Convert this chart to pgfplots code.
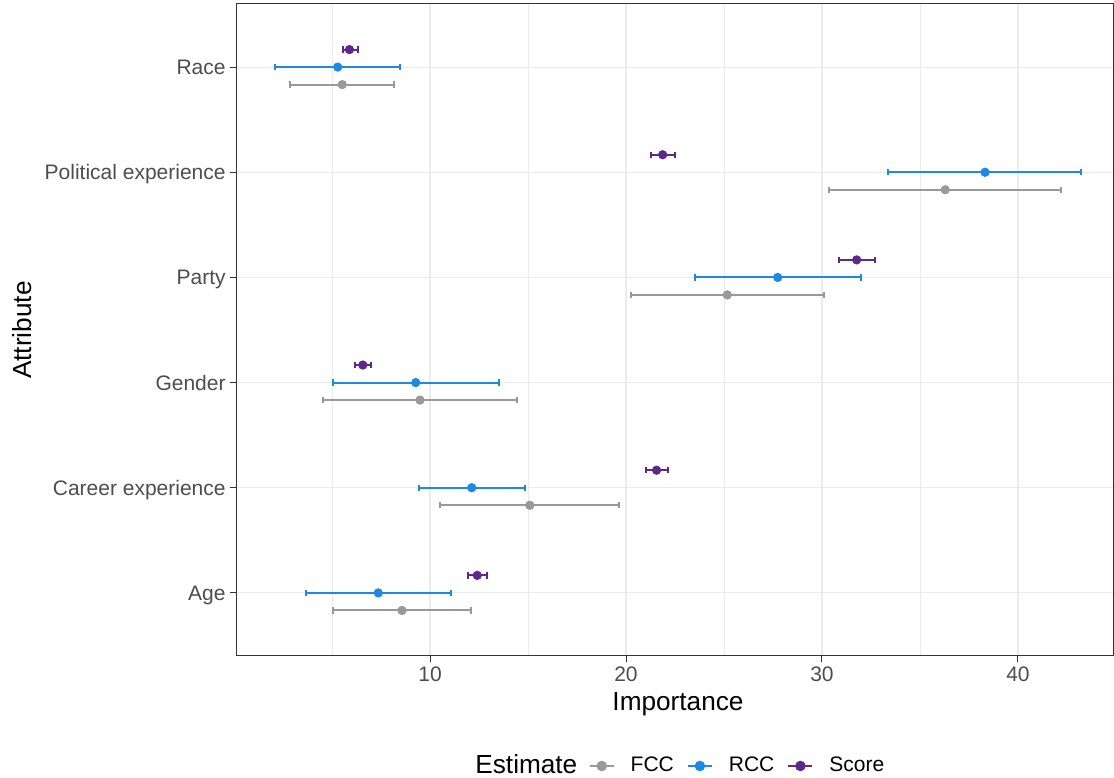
\documentclass[border=0pt]{standalone}
\usepackage{pgfplots}
\pgfplotsset{compat=1.18}
\usepackage{pgfplotstable}
\usepackage{fontspec}
\setmainfont{Liberation Sans}
\definecolor{fcc}{HTML}{999999}
\definecolor{rcc}{HTML}{1E88E5}
\definecolor{score}{HTML}{5E278C}
\definecolor{gridc}{HTML}{EBEBEB}
\definecolor{txt}{HTML}{4D4D4D}
\definecolor{frame}{HTML}{333333}
\pgfplotsset{
  mylegend/.style={legend image code/.code={\draw[mark repeat=2,mark phase=2,##1] plot coordinates {(0pt,0pt) (6pt,0pt) (12pt,0pt)};}},
  myerr/.style={only marks, mark=*, mark size=2.1pt, color=#1, forget plot,
    error bars/.cd, x dir=both, x explicit, error mark=|,
    error bar style={line width=1pt, color=#1},
    error mark options={mark size=1.6pt, line width=1pt, color=#1}}
}

\pgfplotstableread{
y x lo hi
6.1667 5.89 5.56 6.30
5.1667 21.87 21.26 22.50
4.1667 31.77 30.85 32.72
3.1667 6.57 6.19 6.97
2.1667 21.56 21.00 22.16
1.1667 12.41 11.92 12.89
}\scoredata
\pgfplotstableread{
y x lo hi
6 5.29 2.11 8.47
5 38.32 33.38 43.23
4 27.74 23.50 31.97
3 9.27 5.03 13.52
2 12.13 9.42 14.85
1 7.36 3.69 11.07
}\rccdata
\pgfplotstableread{
y x lo hi
5.8333 5.52 2.88 8.16
4.8333 36.29 30.37 42.19
3.8333 25.17 20.24 30.12
2.8333 9.49 4.52 14.42
1.8333 15.09 10.53 19.63
0.8333 8.57 5.03 12.09
}\fccdata

\begin{document}
\begin{tikzpicture}
\begin{axis}[
  scale only axis,
  width=438.5pt, height=326pt,
  xmin=0.10, xmax=44.85,
  ymin=0.4, ymax=6.6,
  xtick={10,20,30,40},
  minor xtick={5,15,25,35},
  ytick={1,2,3,4,5,6},
  yticklabels={Age, Career experience, Gender, Party, Political experience, Race},
  /pgf/number format/assume math mode=true,
  tick label style={font=\fontsize{10.5}{12.6}\selectfont, color=txt},
  xticklabel style={inner sep=0pt, yshift=-2pt},
  yticklabel style={inner sep=0pt, xshift=-2pt, text height=7.5pt, text depth=0pt},
  tick align=outside,
  major tick length=3pt,
  minor tick length=0pt,
  tick style={color=frame, line width=0.5pt},
  xtick pos=bottom, ytick pos=left,
  grid=both,
  major grid style={color=gridc, line width=0.55pt},
  minor grid style={color=gridc, line width=0.3pt},
  axis line style={color=frame, line width=0.5pt},
  xlabel={Importance},
  ylabel={Attribute},
  label style={font=\fontsize{13.1}{15.7}\selectfont, color=black},
  xlabel style={at={(axis description cs:0.504,-0.0736)}, anchor=center},
  ylabel style={at={(axis description cs:-0.244,0.5)}, anchor=center},
  legend columns=-1,
  legend style={draw=none, fill=none, at={(axis description cs:0.5707,-0.1687)}, anchor=center,
    font=\fontsize{10.5}{12.6}\selectfont, inner sep=0pt,
    nodes={inner sep=0pt},
    column sep=8pt,
    /tikz/every even column/.append style={column sep=6.5pt}},
]
\addplot[myerr=fcc]
  table[x=x, y=y, x error plus expr=\thisrow{hi}-\thisrow{x}, x error minus expr=\thisrow{x}-\thisrow{lo}] {\fccdata};
\addplot[myerr=rcc]
  table[x=x, y=y, x error plus expr=\thisrow{hi}-\thisrow{x}, x error minus expr=\thisrow{x}-\thisrow{lo}] {\rccdata};
\addplot[myerr=score]
  table[x=x, y=y, x error plus expr=\thisrow{hi}-\thisrow{x}, x error minus expr=\thisrow{x}-\thisrow{lo}] {\scoredata};
\addlegendimage{mylegend, color=fcc, line width=1pt, mark=*, mark size=2.1pt}
\addlegendentry{FCC}
\addlegendimage{mylegend, color=rcc, line width=1pt, mark=*, mark size=2.1pt}
\addlegendentry{RCC}
\addlegendimage{mylegend, color=score, line width=1pt, mark=*, mark size=2.1pt}
\addlegendentry{Score}
\coordinate (esttitle) at (axis description cs:0.2725,-0.1656);
\coordinate (bbsw) at (axis description cs:-0.2691,-0.1871);
\coordinate (bbne) at (axis description cs:1.00114,1.00613);
\end{axis}
\node[anchor=west, inner sep=0pt, font=\fontsize{13.1}{15.7}\selectfont] at (esttitle) {Estimate};
\pgfresetboundingbox
\path[use as bounding box] (bbsw) rectangle (bbne);
\end{tikzpicture}
\end{document}
